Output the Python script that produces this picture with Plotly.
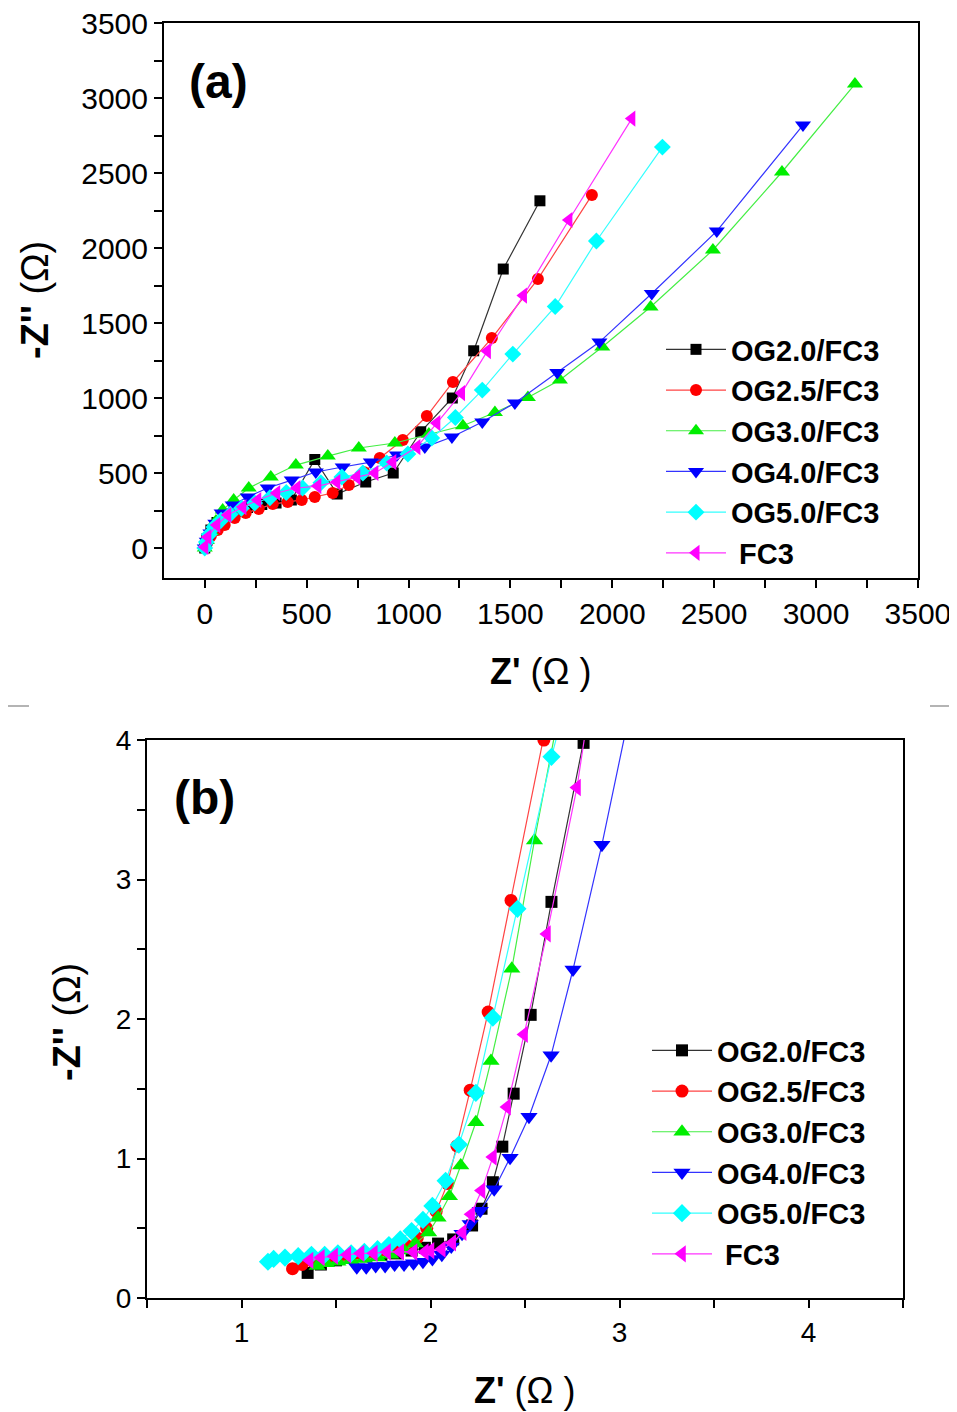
import plotly.graph_objects as go

# ---------------- data: panel (a) ----------------
names = ["OG2.0/FC3", "OG2.5/FC3", "OG3.0/FC3", "OG4.0/FC3", "OG5.0/FC3", " FC3"]
symbols = ["square", "circle", "triangle-up", "triangle-down", "diamond", "triangle-left"]
marker_colors = ["#000000", "#ff0000", "#00ee00", "#0000ff", "#00ffff", "#ff00ff"]
line_colors = ["#333333", "#ff4444", "#44ee44", "#3333ff", "#33ffff", "#ff33ff"]

a_og20_x = [0, 10, 30, 60, 100, 150, 210, 280, 350, 425, 540, 650, 790, 925, 1060, 1215, 1320, 1465, 1645]
a_og20_y = [0, 60, 120, 170, 210, 245, 270, 290, 300, 320, 590, 360, 440, 500, 775, 1000, 1315, 1860, 2315]

a_og25_x = [0, 10, 30, 64, 98, 147, 201, 265, 334, 407, 476, 540, 628, 707, 783, 859, 972, 1090, 1218, 1409, 1635, 1900]
a_og25_y = [0, 30, 80, 120, 153, 200, 233, 260, 293, 307, 320, 340, 367, 420, 505, 600, 720, 880, 1107, 1400, 1793, 2353]

a_og30_x = [0, 10, 30, 55, 88, 142, 216, 324, 447, 604, 756, 933, 1100, 1267, 1424, 1586, 1743, 1951, 2188, 2494, 2833, 3191]
a_og30_y = [0, 50, 110, 180, 253, 320, 400, 473, 553, 613, 667, 700, 760, 815, 903, 1003, 1120, 1340, 1607, 1987, 2507, 3093]

a_og40_x = [0, 10, 28, 52, 83, 137, 211, 309, 427, 545, 677, 815, 943, 1080, 1213, 1362, 1522, 1730, 1937, 2194, 2513, 2936]
a_og40_y = [0, 45, 100, 165, 233, 287, 340, 400, 453, 507, 540, 573, 620, 673, 740, 840, 967, 1170, 1373, 1697, 2113, 2820]

a_og50_x = [0, 8, 22, 45, 80, 125, 180, 245, 320, 400, 480, 570, 673, 776, 893, 997, 1114, 1230, 1362, 1512, 1720, 1922, 2246]
a_og50_y = [0, 40, 90, 140, 185, 225, 265, 300, 335, 370, 400, 435, 473, 500, 567, 627, 733, 870, 1053, 1293, 1610, 2047, 2673]

a_fc3_x = [0, 15, 59, 113, 187, 260, 353, 452, 555, 648, 746, 835, 923, 1041, 1139, 1260, 1387, 1564, 1787, 2096]
a_fc3_y = [7, 73, 153, 220, 273, 320, 367, 400, 413, 440, 473, 500, 573, 673, 833, 1033, 1313, 1683, 2187, 2863]

# ---------------- data: panel (b) ----------------
b_og20_x = [1.35, 1.42, 1.50, 1.58, 1.66, 1.74, 1.82, 1.90, 1.97, 2.04, 2.12, 2.22, 2.27, 2.33, 2.38, 2.44, 2.53, 2.64, 2.81, 2.90]
b_og20_y = [0.18, 0.24, 0.27, 0.29, 0.30, 0.31, 0.32, 0.34, 0.36, 0.39, 0.42, 0.52, 0.64, 0.83, 1.085, 1.465, 2.03, 2.84, 3.98, 4.6]

b_og25_x = [1.27, 1.32, 1.38, 1.45, 1.52, 1.60, 1.67, 1.74, 1.81, 1.87, 1.93, 1.98, 2.03, 2.09, 2.14, 2.21, 2.305, 2.426, 2.60, 2.70]
b_og25_y = [0.21, 0.24, 0.26, 0.28, 0.29, 0.30, 0.31, 0.33, 0.35, 0.38, 0.43, 0.50, 0.62, 0.82, 1.09, 1.49, 2.05, 2.85, 4.0, 4.7]

b_og30_x = [1.40, 1.45, 1.51, 1.58, 1.65, 1.72, 1.79, 1.86, 1.92, 1.99, 2.04, 2.10, 2.16, 2.24, 2.32, 2.43, 2.55, 2.75]
b_og30_y = [0.23, 0.25, 0.26, 0.27, 0.28, 0.29, 0.31, 0.34, 0.39, 0.47, 0.575, 0.73, 0.95, 1.26, 1.70, 2.36, 3.28, 4.7]

b_og40_x = [1.61, 1.66, 1.71, 1.76, 1.81, 1.86, 1.91, 1.96, 2.01, 2.06, 2.11, 2.167, 2.21, 2.263, 2.337, 2.421, 2.521, 2.638, 2.754, 2.907, 3.10]
b_og40_y = [0.22, 0.22, 0.23, 0.23, 0.24, 0.24, 0.25, 0.26, 0.28, 0.31, 0.37, 0.46, 0.53, 0.625, 0.78, 1.005, 1.30, 1.74, 2.355, 3.25, 4.5]

b_og50_x = [1.14, 1.17, 1.23, 1.30, 1.37, 1.44, 1.51, 1.58, 1.65, 1.72, 1.78, 1.84, 1.90, 1.96, 2.01, 2.08, 2.15, 2.24, 2.33, 2.46, 2.64, 2.78]
b_og50_y = [0.26, 0.28, 0.29, 0.30, 0.31, 0.31, 0.32, 0.32, 0.33, 0.35, 0.38, 0.42, 0.48, 0.56, 0.66, 0.84, 1.10, 1.47, 2.01, 2.79, 3.88, 4.6]

b_fc3_x = [1.36, 1.42, 1.49, 1.56, 1.63, 1.70, 1.77, 1.84, 1.91, 1.97, 2.00, 2.06, 2.115, 2.17, 2.215, 2.27, 2.33, 2.405, 2.495, 2.616, 2.775, 2.88]
b_fc3_y = [0.27, 0.29, 0.30, 0.31, 0.32, 0.32, 0.33, 0.33, 0.33, 0.33, 0.34, 0.35, 0.395, 0.47, 0.60, 0.77, 1.01, 1.37, 1.89, 2.61, 3.66, 4.6]

a_x = [a_og20_x, a_og25_x, a_og30_x, a_og40_x, a_og50_x, a_fc3_x]
a_y = [a_og20_y, a_og25_y, a_og30_y, a_og40_y, a_og50_y, a_fc3_y]
b_x = [b_og20_x, b_og25_x, b_og30_x, b_og40_x, b_og50_x, b_fc3_x]
b_y = [b_og20_y, b_og25_y, b_og30_y, b_og40_y, b_og50_y, b_fc3_y]

marker_sizes_a = [11, 12, 14, 14, 13, 14]
marker_sizes_b = [12, 13, 15, 15, 14, 15]

OFF = 8  # page body margin
W, H = 957 - OFF, 1412 - OFF
FONT = "Arial, 'Liberation Sans', sans-serif"

fig = go.Figure()
for i in range(6):
    fig.add_trace(go.Scatter(
        x=a_x[i], y=a_y[i], mode="lines+markers", name=names[i],
        line=dict(color=line_colors[i], width=1.2),
        marker=dict(symbol=symbols[i], color=marker_colors[i], size=marker_sizes_a[i], line=dict(width=0)),
        xaxis="x", yaxis="y", legend="legend"))
for i in range(6):
    fig.add_trace(go.Scatter(
        x=b_x[i], y=b_y[i], mode="lines+markers", name=names[i],
        line=dict(color=line_colors[i], width=1.2),
        marker=dict(symbol=symbols[i], color=marker_colors[i], size=marker_sizes_b[i], line=dict(width=0)),
        xaxis="x2", yaxis="y2", legend="legend2"))


def px_x(p):
    return (p - OFF) / W


def px_y(p):
    return 1 - (p - OFF) / H


axis_common = dict(showgrid=False, zeroline=False, showline=True, linecolor="black",
                   linewidth=2, mirror=True, ticks="outside", ticklen=8, tickwidth=2,
                   tickcolor="black", automargin=False, ticklabeloverflow="allow")

fig.update_layout(
    width=W, height=H, margin=dict(l=0, r=0, t=0, b=0),
    paper_bgcolor="white", plot_bgcolor="white",
    font=dict(family=FONT, color="black"),
    xaxis=dict(domain=[px_x(164), px_x(918)], range=[-200, 3500.5], tick0=0, dtick=500,
               tickfont=dict(size=30), anchor="y",
               minor=dict(dtick=250, ticks="outside", ticklen=8, tickwidth=2, tickcolor="black"),
               **axis_common),
    yaxis=dict(domain=[px_y(578), px_y(23)], range=[-200, 3500.5], tick0=0, dtick=500,
               tickfont=dict(size=30), anchor="x",
               minor=dict(dtick=250, ticks="outside", ticklen=8, tickwidth=2, tickcolor="black"),
               **axis_common),
    xaxis2=dict(domain=[px_x(147), px_x(903)], range=[0.5, 4.5], tick0=0, dtick=1,
                tickfont=dict(size=28), anchor="y2",
                minor=dict(dtick=0.5, ticks="outside", ticklen=8, tickwidth=2, tickcolor="black"),
                **axis_common),
    yaxis2=dict(domain=[px_y(1298), px_y(740)], range=[0, 4.0005], tick0=0, dtick=1,
                tickfont=dict(size=28), anchor="x2",
                minor=dict(dtick=0.5, ticks="outside", ticklen=8, tickwidth=2, tickcolor="black"),
                **axis_common),
    legend=dict(x=px_x(661), y=px_y(324), xanchor="left", yanchor="top",
                font=dict(size=29, family=FONT, weight="bold"), bgcolor="rgba(0,0,0,0)",
                itemwidth=60, tracegroupgap=0),
    legend2=dict(x=px_x(647), y=px_y(1025), xanchor="left", yanchor="top",
                 font=dict(size=29, family=FONT, weight="bold"), bgcolor="rgba(0,0,0,0)",
                 itemwidth=60, tracegroupgap=0),
    showlegend=True,
)

annotations = [
    dict(text="<b>(a)</b>", x=px_x(218), y=px_y(82), font=dict(size=48)),
    dict(text="<b>(b)</b>", x=px_x(204), y=px_y(797), font=dict(size=48)),
    dict(text="<b>Z'</b> (Ω )", x=px_x(540), y=px_y(672), font=dict(size=36)),
    dict(text="<b>Z'</b> (Ω )", x=px_x(524), y=px_y(1390), font=dict(size=36)),
    dict(text="<b>-Z''</b> (Ω)", x=px_x(35), y=px_y(300), textangle=-90, font=dict(size=38)),
    dict(text="<b>-Z''</b> (Ω)", x=px_x(67), y=px_y(1022), textangle=-90, font=dict(size=38)),
]
for a in annotations:
    a.update(xref="paper", yref="paper", showarrow=False, xanchor="center", yanchor="middle")
fig.update_layout(annotations=annotations)

fig.update_layout(shapes=[
    dict(type="line", xref="paper", yref="paper", x0=0, x1=px_x(29), y0=px_y(706), y1=px_y(706),
         line=dict(color="#b4b4b4", width=2)),
    dict(type="line", xref="paper", yref="paper", x0=px_x(930), x1=1, y0=px_y(706), y1=px_y(706),
         line=dict(color="#b4b4b4", width=2)),
])

fig.write_html("out.html")
